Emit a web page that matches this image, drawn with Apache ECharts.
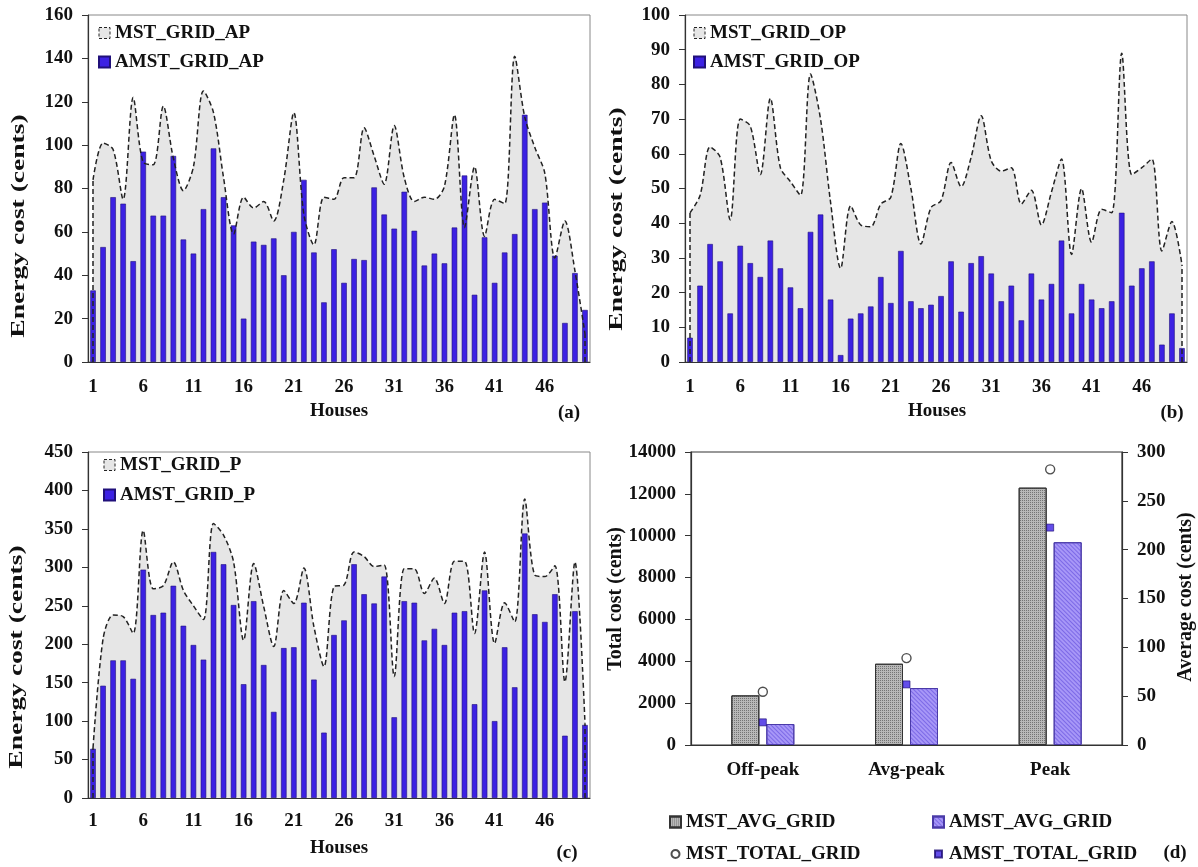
<!DOCTYPE html>
<html>
<head>
<meta charset="utf-8">
<script src="https://cdn.jsdelivr.net/npm/echarts@6/dist/echarts.min.js"></script>
<style>
  html, body { margin: 0; padding: 0; background: #fff; }
  #chart { width: 1198px; height: 867px; }
</style>
</head>
<body>
<div id="chart"></div>
<script>
const FONT = 'Liberation Serif';

const houses = ['1','2','3','4','5','6','7','8','9','10','11','12','13','14','15','16','17','18','19','20',
  '21','22','23','24','25','26','27','28','29','30','31','32','33','34','35','36','37','38','39','40',
  '41','42','43','44','45','46','47','48','49','50'];

// (a) all periods
const mstGridAP = [84,101,98,75,122,92,91,118,94,79,90,125,115,85,59,76,71,74,65,84,
  115,68,54,76,75,85,85,108,95,82,109,85,74,76,75,81,114,62,90,58,
  75,73,141,113,99,87,48,65,42,13];
const amstGridAP = [33,53,76,73,46.5,97,67.5,67.5,95,56.5,50,70.5,98.5,76,63,20,55.5,54,57,40,
  60,84,50.5,27.5,52,36.5,47.5,47,80.5,68,61.5,78.5,60.5,44.5,50,45.5,62,86,31,57.5,
  36.5,50.5,59,114,70.5,73.5,49,18,41,24];

// (b) off-peak
const mstGridOP = [43,48,62,59,41,70,68,54,76,56,52,48,83,70,46,27,45,39.5,39,45.5,
  47.5,63,50,34,44.5,46.5,57.5,50.5,59,71,58,55,56,45.5,49.5,39.5,49,58.5,31,50,
  34.5,44,43,89,54,56,58.5,32,40.5,28];
const amstGridOP = [7,22,34,29,14,33.5,28.5,24.5,35,27,21.5,15.5,37.5,42.5,18,2,12.5,14,16,24.5,
  17,32,17.5,15.5,16.5,19,29,14.5,28.5,30.5,25.5,17.5,22,12,25.5,18,22.5,35,14,22.5,
  18,15.5,17.5,43,22,27,29,5,14,4];

// (c) peak
const mstGridP = [65,207,238,236,214,348,272,276,307,270,250,232,357,342,307,205,305,249,197,270,
  253,299,223,171,275,277,320,314,301,303,158,298,298,266,286,253,308,308,214,320,
  201,254,229,389,290,288,302,151,307,97];
const amstGridP = [64,146,179,179,155,297,238,241,276,224,199,180,320,304,251,148,256,173,112,195,
  196,254,154,85,212,231,304,265,253,288,105,256,254,205,220,199,241,243,122,270,
  100,196,144,344,239,229,265,81,243,95];

// (d) summary
const periods = ['Off-peak', 'Avg-peak', 'Peak'];
const mstAvgGrid = [50.8, 83.2, 263.5];
const amstAvgGrid = [21.5, 58.3, 207.6];
const mstTotalGrid = [2546, 4152, 13172];
const amstTotalGrid = [1082, 2896, 10388];

const BLUE = '#3c21e3';
const AREA = '#e6e6e6';
const INK = '#111';

const labelFont = { color: INK, fontFamily: FONT, fontWeight: 'bold', fontSize: 19 };

function valueAxis(gridIndex, max, interval, position) {
  return {
    type: 'value', gridIndex: gridIndex, min: 0, max: max, interval: interval,
    position: position || 'left',
    axisLine: { show: true, lineStyle: { color: '#333', width: 1.2 } },
    axisTick: { show: true, length: 6, lineStyle: { color: '#333' } },
    splitLine: { show: false },
    axisLabel: Object.assign({ margin: 15, formatter: v => String(v) }, labelFont)
  };
}

function houseAxis(gridIndex, margin) {
  return {
    type: 'category', gridIndex: gridIndex, data: houses, boundaryGap: true,
    axisLine: { lineStyle: { color: '#333', width: 1.2 } },
    axisTick: { interval: 4, length: 5, lineStyle: { color: '#333' } },
    axisLabel: Object.assign({ interval: 4, margin: margin }, labelFont)
  };
}

// area behind bars, dashed outline above them
function houseSeries(idx, mstName, amstName, mst, amst) {
  const dash = { type: [5, 3], color: '#222', width: 1.5 };
  return [
    {
      name: mstName, type: 'line', xAxisIndex: idx, yAxisIndex: idx, data: mst,
      smooth: 0.3, symbol: 'none', z: 1,
      lineStyle: { width: 0 }, areaStyle: { color: AREA, opacity: 1 },
      itemStyle: { color: AREA }
    },
    {
      name: amstName, type: 'bar', xAxisIndex: idx, yAxisIndex: idx, data: amst,
      barWidth: '55%', z: 2,
      itemStyle: { color: BLUE, borderColor: '#20107a', borderWidth: 0.6 }
    },
    {
      name: mstName, type: 'line', xAxisIndex: idx, yAxisIndex: idx, data: mst,
      smooth: 0.3, symbol: 'none', z: 3,
      lineStyle: dash, itemStyle: { color: AREA },
      markLine: {
        silent: true, symbol: 'none', label: { show: false }, lineStyle: dash,
        data: [
          [{ coord: [0, 0] }, { coord: [0, mst[0]] }],
          [{ coord: [mst.length - 1, 0] }, { coord: [mst.length - 1, mst[mst.length - 1]] }]
        ]
      }
    }
  ];
}

function houseLegend(left, top, gap, mstName, amstName) {
  return {
    orient: 'vertical', left: left, top: top, padding: 0,
    itemWidth: 11, itemHeight: 11, itemGap: gap,
    selectedMode: false,
    textStyle: Object.assign({ lineHeight: 20 }, labelFont),
    data: [
      { name: mstName, icon: 'rect',
        itemStyle: { color: AREA, borderColor: '#222', borderWidth: 1, borderType: [3, 2] } },
      { name: amstName, icon: 'rect' }
    ]
  };
}

function text(x, y, str, opts) {
  return Object.assign({
    type: 'text', x: x, y: y, silent: true,
    style: {
      text: str, font: 'bold 19px "' + FONT + '"', fill: INK,
      textAlign: 'center', textVerticalAlign: 'middle'
    }
  }, opts || {});
}

function yTitle(x, y, str, size, stretch) {
  return {
    type: 'text', x: x, y: y, rotation: Math.PI / 2, scaleX: stretch, silent: true,
    style: {
      text: str, font: 'bold ' + size + 'px "' + FONT + '"', fill: INK,
      textAlign: 'center', textVerticalAlign: 'middle'
    }
  };
}

const hatch = {
  symbol: 'rect', symbolSize: 1, dashArrayX: [1, 0], dashArrayY: [1, 2],
  rotation: Math.PI / 4, color: 'rgba(110, 90, 225, 0.75)'
};
const stipple = {
  symbol: 'rect', symbolSize: 1, dashArrayX: [1, 1], dashArrayY: [1, 1],
  color: 'rgba(70, 70, 70, 0.6)'
};

const chart = echarts.init(document.getElementById('chart'), null, { renderer: 'canvas' });

const option = {
  animation: false,
  backgroundColor: '#fff',
  grid: [
    { left: 88, top: 15, width: 502, height: 347, show: true, borderColor: '#888', borderWidth: 1 },
    { left: 685, top: 15, width: 502, height: 347, show: true, borderColor: '#888', borderWidth: 1 },
    { left: 88, top: 452, width: 502, height: 346, show: true, borderColor: '#888', borderWidth: 1 },
    { left: 691, top: 452, width: 431, height: 293, show: true, borderColor: '#333', borderWidth: 1.2 }
  ],
  xAxis: [
    houseAxis(0, 16), houseAxis(1, 16), houseAxis(2, 14),
    {
      type: 'category', gridIndex: 3, data: periods,
      axisLine: { lineStyle: { color: '#333', width: 1.2 } },
      axisTick: { show: false },
      axisLabel: Object.assign({ margin: 16 }, labelFont)
    }
  ],
  yAxis: [
    valueAxis(0, 160, 20),
    valueAxis(1, 100, 10),
    valueAxis(2, 450, 50),
    valueAxis(3, 14000, 2000),
    valueAxis(3, 300, 50, 'right')
  ],
  legend: [
    houseLegend(98, 23, 9, 'MST_GRID_AP', 'AMST_GRID_AP'),
    houseLegend(693, 23, 9, 'MST_GRID_OP', 'AMST_GRID_OP'),
    houseLegend(103, 455, 10, 'MST_GRID_P', 'AMST_GRID_P'),
    {
      orient: 'vertical', left: 669, top: 812, padding: 0, itemWidth: 11, itemHeight: 11, itemGap: 12,
      selectedMode: false, textStyle: Object.assign({ lineHeight: 20 }, labelFont),
      data: [
        { name: 'MST_AVG_GRID', icon: 'rect' },
        { name: 'MST_TOTAL_GRID', icon: 'path://M0,0M11,11M5.5,1.5A4,4,0,1,1,5.49,1.5Z' }
      ]
    },
    {
      orient: 'vertical', left: 932, top: 812, padding: 0, itemWidth: 11, itemHeight: 11, itemGap: 12,
      selectedMode: false, textStyle: Object.assign({ lineHeight: 20 }, labelFont),
      data: [
        { name: 'AMST_AVG_GRID', icon: 'rect' },
        { name: 'AMST_TOTAL_GRID', icon: 'path://M0,0M11,11M2,2L9,2L9,9L2,9Z' }
      ]
    }
  ],
  series: [].concat(
    houseSeries(0, 'MST_GRID_AP', 'AMST_GRID_AP', mstGridAP, amstGridAP),
    houseSeries(1, 'MST_GRID_OP', 'AMST_GRID_OP', mstGridOP, amstGridOP),
    houseSeries(2, 'MST_GRID_P', 'AMST_GRID_P', mstGridP, amstGridP),
    [
      {
        name: 'MST_AVG_GRID', type: 'bar', xAxisIndex: 3, yAxisIndex: 4, data: mstAvgGrid,
        barWidth: 28, barGap: '25%',
        itemStyle: { color: '#b8b8b8', borderColor: '#333', borderWidth: 1, decal: stipple }
      },
      {
        name: 'AMST_AVG_GRID', type: 'bar', xAxisIndex: 3, yAxisIndex: 4, data: amstAvgGrid,
        barWidth: 28, barGap: '25%',
        itemStyle: { color: '#a797f7', borderColor: '#4a3aa8', borderWidth: 1, decal: hatch }
      },
      {
        name: 'MST_TOTAL_GRID', type: 'scatter', xAxisIndex: 3, yAxisIndex: 3, data: mstTotalGrid,
        symbol: 'circle', symbolSize: 9, z: 5,
        itemStyle: { color: '#fff', borderColor: '#222', borderWidth: 1.4 }
      },
      {
        name: 'AMST_TOTAL_GRID', type: 'scatter', xAxisIndex: 3, yAxisIndex: 3, data: amstTotalGrid,
        symbol: 'rect', symbolSize: 7, z: 5,
        itemStyle: { color: BLUE, borderColor: '#1a0a70', borderWidth: 0.8 }
      }
    ]
  ),
  graphic: [
    yTitle(19.5, 226, 'Energy cost (cents)', 18, 1.53),
    yTitle(617.5, 219, 'Energy cost (cents)', 18, 1.53),
    yTitle(17.5, 657, 'Energy cost (cents)', 18, 1.53),
    yTitle(615.5, 599, 'Total cost (cents)', 20, 1),
    yTitle(1186, 597, 'Average cost (cents)', 20, 1),
    text(339, 411, 'Houses'),
    text(937, 411, 'Houses'),
    text(339, 848, 'Houses'),
    text(569, 413, '(a)'),
    text(1172, 413, '(b)'),
    text(567, 853, '(c)'),
    text(1175, 853, '(d)')
  ]
};

chart.setOption(option);
</script>
</body>
</html>
